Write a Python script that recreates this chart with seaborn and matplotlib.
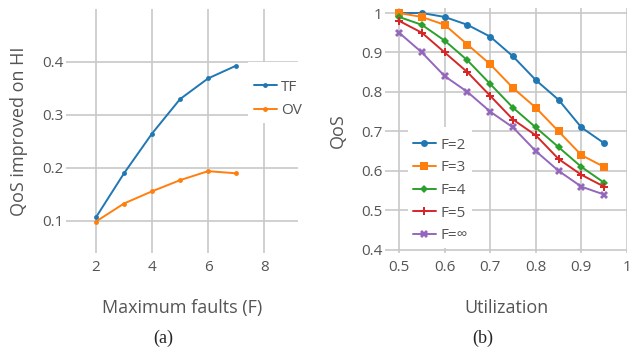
import numpy as np
import pandas as pd
import matplotlib
matplotlib.use("Agg")
import matplotlib.pyplot as plt
import seaborn as sns
from matplotlib.patches import Rectangle
from matplotlib.ticker import FormatStrFormatter, FuncFormatter

# ---- data (a)
faults = [2, 3, 4, 5, 6, 7]
tf_vals = [0.107, 0.190, 0.265, 0.330, 0.369, 0.393]
ov_vals = [0.099, 0.133, 0.156, 0.177, 0.194, 0.190]

# ---- data (b)
util = [0.5, 0.55, 0.6, 0.65, 0.7, 0.75, 0.8, 0.85, 0.9, 0.95]
f2 = [1.00, 1.00, 0.99, 0.97, 0.94, 0.89, 0.83, 0.78, 0.71, 0.67]
f3 = [1.00, 0.99, 0.97, 0.92, 0.87, 0.81, 0.76, 0.70, 0.64, 0.61]
f4 = [0.99, 0.97, 0.93, 0.88, 0.82, 0.76, 0.71, 0.66, 0.61, 0.57]
f5 = [0.98, 0.95, 0.90, 0.85, 0.79, 0.73, 0.69, 0.63, 0.59, 0.56]
finf = [0.95, 0.90, 0.84, 0.80, 0.75, 0.71, 0.65, 0.60, 0.56, 0.54]
series_b = ["F=2", "F=3", "F=4", "F=5", "F=∞"]

sns.set_theme(style="white")
plt.rcParams['font.family'] = ['Open Sans', 'DejaVu Sans']

colors = ["#1f77b4", "#ff7f0e", "#2ca02c", "#d62728", "#9467bd"]
tick_color = "#555555"
grid_color = "#c8c8c8"

W, H = 629, 350
fig = plt.figure(figsize=(6.29, 3.5), dpi=100)
axa = fig.add_axes([66 / W, 1 - 253 / H, 232 / W, 244 / H])
axb = fig.add_axes([385 / W, 1 - 253 / H, 242 / W, 245 / H])


def white_box(ax, x0, y0, x1, y1):
    r = Rectangle((x0 / W, 1 - y1 / H), (x1 - x0) / W, (y1 - y0) / H,
                  transform=fig.transFigure, facecolor="white", edgecolor="none",
                  zorder=1, clip_on=False)
    ax.add_patch(r)


# panel a
dfa = pd.DataFrame({"F": faults * 2, "val": tf_vals + ov_vals,
                    "series": ["TF"] * len(faults) + ["OV"] * len(faults)})
sns.lineplot(data=dfa, x="F", y="val", hue="series", palette=colors[:2],
             marker="o", markersize=3.5, markeredgewidth=0, linewidth=1.4, ax=axa)
axa.set_xlim(0.929, 9.21)
axa.set_ylim(0.0396, 0.5)
axa.set_xticks([2, 4, 6, 8])
axa.set_yticks([0.1, 0.2, 0.3, 0.4])
axa.yaxis.set_major_formatter(FormatStrFormatter('%.1f'))
axa.set_xlabel("Maximum faults (F)", fontsize=13, color="#555555", labelpad=17)
axa.set_ylabel("QoS improved on HI", fontsize=13, color="#555555", labelpad=10)
leg = axa.legend(loc="upper left", bbox_to_anchor=(0.793, 0.726), frameon=False,
                 fontsize=11, handlelength=1.5, handletextpad=0.26,
                 borderpad=0.25, labelspacing=0.57, borderaxespad=0)
for t in leg.get_texts():
    t.set_color("#555555")
white_box(axa, 248, 62, 303, 123)

# panel b
rows = []
for name, vals in zip(series_b, [f2, f3, f4, f5, finf]):
    for u, v in zip(util, vals):
        rows.append({"U": u, "QoS": v, "series": name})
dfb = pd.DataFrame(rows)
markers = {"F=2": "o", "F=3": "s", "F=4": "D", "F=5": "P", "F=∞": "X"}
sizes = {"F=2": 5, "F=3": 5.5, "F=4": 4, "F=5": 6, "F=∞": 5.5}
for i, name in enumerate(series_b):
    sub = dfb[dfb["series"] == name]
    sns.lineplot(data=sub, x="U", y="QoS", color=colors[i], marker=markers[name],
                 markersize=sizes[name], markeredgewidth=0, linewidth=1.4,
                 label=name, ax=axb)
axb.set_xlim(0.469, 1.0)
axb.set_ylim(0.392, 1.0127)
axb.set_xticks([0.5, 0.6, 0.7, 0.8, 0.9, 1.0])
axb.set_yticks([0.4, 0.5, 0.6, 0.7, 0.8, 0.9, 1.0])
fmt = FuncFormatter(lambda v, p: ("%g" % round(v, 2)))
axb.xaxis.set_major_formatter(fmt)
axb.yaxis.set_major_formatter(fmt)
axb.set_xlabel("Utilization", fontsize=13, color="#555555", labelpad=17)
axb.set_ylabel("QoS", fontsize=13, color="#555555", labelpad=10)
legb = axb.legend(loc="upper left", bbox_to_anchor=(0.099, 0.486), frameon=False,
                  fontsize=11, handlelength=1.5, handletextpad=0.33,
                  borderpad=0.25, labelspacing=0.5, borderaxespad=0)
for t in legb.get_texts():
    t.set_color("#555555")
white_box(axb, 408, 127, 472, 248)

for ax in (axa, axb):
    for s in ax.spines.values():
        s.set_visible(False)
    ax.grid(True, color=grid_color, linewidth=1.2)
    ax.set_axisbelow(True)
    ax.tick_params(axis="both", labelsize=11, colors=tick_color, length=0, pad=2)
    ax.tick_params(axis="x", pad=5)

fig.text(163 / W, 1 - 338 / H, "(a)", fontsize=13, family="Liberation Serif",
         ha="center", va="center")
fig.text(483 / W, 1 - 338 / H, "(b)", fontsize=13, family="Liberation Serif",
         ha="center", va="center")

fig.savefig("out.png", dpi=100)
